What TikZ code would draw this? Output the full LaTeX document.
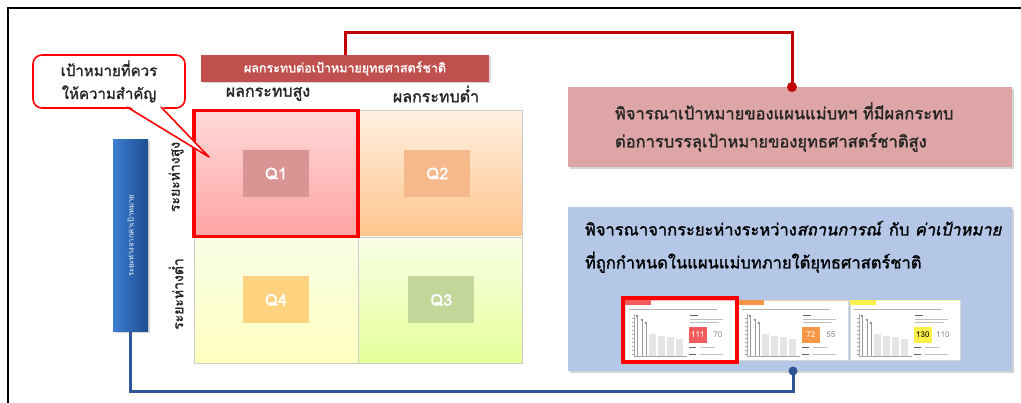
\documentclass[tikz,border=0pt]{standalone}
\usepackage{fontspec}
\setmainfont[Script=Thai]{Loma}
\newfontfamily\thaibold[Script=Thai, FakeBold=1.6]{Loma}
\usetikzlibrary{positioning,shadows}

\definecolor{hdrred}{HTML}{C0504D}
\definecolor{linkred}{HTML}{C00000}
\definecolor{linkblue}{HTML}{2F5597}
\definecolor{pinkfill}{HTML}{DDA5A5}
\definecolor{bluefill}{HTML}{B4C7E7}
\definecolor{barleft}{HTML}{3C7DD2}
\definecolor{barright}{HTML}{1F4E8F}
\definecolor{qone}{HTML}{D99594}
\definecolor{qtwo}{HTML}{F6B98B}
\definecolor{qthree}{HTML}{C4D79B}
\definecolor{qfour}{HTML}{FDD37F}
\definecolor{thumbred}{HTML}{F25C5C}
\definecolor{thumborange}{HTML}{F79646}
\definecolor{thumbyellow}{HTML}{FFEF4A}
\definecolor{inktext}{HTML}{262626}

\begin{document}
\begin{tikzpicture}
  [
    x=1pt, y=-1pt,
    >=stealth,
    cell/.style    = {draw=black!20, minimum width=164pt, minimum height=126pt, inner sep=0pt},
    qlabel/.style  = {text=white, font=\thaibold\fontsize{16}{16}\selectfont, minimum width=66pt, minimum height=47pt},
    colhead/.style = {text=inktext, font=\thaibold\fontsize{16}{16}\selectfont},
    rowhead/.style = {text=inktext, font=\thaibold\fontsize{14}{14}\selectfont, rotate=90},
    infobox/.style = {minimum width=444pt, drop shadow={opacity=0.35, shadow xshift=2pt, shadow yshift=-2pt}},
    thumb/.style   = {fill=white, draw=black!15, minimum width=110pt, minimum height=60pt, inner sep=0pt},
    redlink/.style = {draw=linkred, line width=3pt},
    bluelink/.style= {draw=linkblue, line width=3pt},
    point/.style   = {circle, inner sep=0pt, minimum size=10pt},
  ]

  \useasboundingbox (0,0) rectangle (1021,403);
  % frame
  \draw[line width=1.6pt] (8,403) -- (8,8) -- (1021,8);

  % ---- the 2x2 grid
  \node[cell, top color=red!15, bottom color=red!36] (q1) at (276,173.5) {};
  \node[cell, top color=orange!12, bottom color=orange!45, right=0pt of q1] (q2) {};
  \node[cell, top color=lime!10, bottom color=yellow!25, below=0pt of q1] (q4) {};
  \node[cell, top color=lime!10, bottom color=lime!40, right=0pt of q4] (q3) {};

  \node[qlabel, fill=qone]   (l1) at (q1.center) {Q1};
  \node[qlabel, fill=qtwo]   (l2) at ([xshift=-3pt]q2.center) {Q2};
  \node[qlabel, fill=qfour]  (l4) at (q4.center) {Q4};
  \node[qlabel, fill=qthree] (l3) at ([xshift=1pt]q3.center) {Q3};

  \draw[red, line width=3.5pt] (q1.north west) rectangle (q1.south east);

  % ---- column / row heads
  \node[fill=hdrred, text=white, minimum width=288pt, minimum height=27pt,
        font=\thaibold\fontsize{12.5}{12.5}\selectfont,
        drop shadow={opacity=0.3, shadow xshift=1.5pt, shadow yshift=-1.5pt}]
        (hdr) at (345,68.5) {ผลกระทบต่อเป้าหมายยุทธศาสตร์ชาติ};
  \node[colhead] (hi) at (268,94) {ผลกระทบสูง};
  \node[colhead] (lo) at (436,94) {ผลกระทบต่ำ};

  \node[left color=barleft, right color=barright, minimum width=35pt, minimum height=192pt,
        drop shadow={opacity=0.3, shadow xshift=1.5pt, shadow yshift=-1.5pt}]
        (gap) at (130.5,236) {};
  \node[rotate=90, text=white, font=\fontsize{7.5}{7.5}\selectfont] (gaptxt) at (gap.center) {ระยะห่างจากค่าเป้าหมาย};
  \node[rowhead] (gaphi) at (176,177) {ระยะห่างสูง};
  \node[rowhead] (gaplo) at (176,294) {ระยะห่างต่ำ};

  % ---- callout
  \node[draw=red, line width=1.6pt, fill=white, rounded corners=9pt,
        minimum width=152pt, minimum height=53pt, align=center, text=inktext,
        font=\thaibold\fontsize{15}{23}\selectfont]
        (note) at (109,81.5) {เป้าหมายที่ควร\\ให้ความสำคัญ};
  \coordinate (tip) at (209,157);
  \coordinate (pb1) at (127,107);
  \coordinate (pb2) at (161,107);
  \fill[white] ([yshift=2pt]pb1) -- (tip) -- ([yshift=2pt]pb2) -- cycle;
  \draw[red, line width=1.6pt, line join=round] (pb1) -- (tip) -- (pb2);

  % ---- right hand boxes
  \node[infobox, fill=pinkfill, minimum height=80pt, inner xsep=47pt, text width=350pt,
        align=left, text=inktext, font=\thaibold\fontsize{16.5}{28}\selectfont]
        (impact) at (790,127) {พิจารณาเป้าหมายของแผนแม่บทฯ ที่มีผลกระทบ\\ต่อการบรรลุเป้าหมายของยุทธศาสตร์ชาติสูง};
  \node[infobox, fill=bluefill, minimum height=164pt] (gapbox) at (790,289) {};
  \node[anchor=north west, align=left, text=black, inner sep=0pt,
        font=\thaibold\fontsize{16.5}{33}\selectfont]
        (gaptext) at ([xshift=17pt, yshift=-14pt]gapbox.north west)
        {พิจารณาจากระยะห่างระหว่าง\textit{สถานการณ์} กับ \textit{ค่าเป้าหมาย}\\ที่ถูกกำหนดในแผนแม่บทภายใต้ยุทธศาสตร์ชาติ};

  % ---- the three dashboard thumbnails
  \foreach \i/\cx/\tc/\va/\vb/\vt in {1/680/thumbred/111/70/white, 2/793/thumborange/72/55/white, 3/905/thumbyellow/130/110/black} {
    \node[thumb] (th\i) at (\cx,330) {};
    \begin{scope}[shift={(th\i.north west)}]
      \fill[\tc!45] (0,0) rectangle (110,1.5);
      \fill[\tc] (0,0) rectangle (26,5);
      \draw[black!30, line width=0.9pt] (4,10) -- (92,10);
      % chart
      \draw[black!35, line width=0.5pt] (9,14) -- (9,56) -- (62,56);
      \foreach \t in {18,22,...,54} \draw[black!35, line width=0.4pt] (7.5,\t) -- (9,\t);
      \foreach \lx/\ly in {12/16, 17/20, 21/23} {
        \draw[black!40, line width=0.6pt] (\lx,56) -- (\lx,\ly);
        \fill[black!55] (\lx,\ly) circle (1.1pt);
      }
      \foreach \bx/\by in {24/34, 33/36, 42/37, 51/39} \fill[black!10] (\bx,\by) rectangle (\bx+7,56);
      % figures
      \draw[black!60, line width=1pt] (65,16) -- (73,16);
      \draw[black!25, line width=0.6pt] (65,20) -- (98,20) (65,23) -- (94,23);
      \fill[\tc] (64,27) rectangle (82,43);
      \node[text=\vt, font=\fontsize{8}{8}\selectfont, inner sep=0pt] (va\i) at (73,35) {\va};
      \node[text=black!45, font=\fontsize{8}{8}\selectfont, inner sep=0pt] (vb\i) at (93,35) {\vb};
      \draw[black!60, line width=0.8pt] (64,48) -- (71,48) (64,55) -- (71,55);
      \draw[black!25, line width=0.6pt] (75,48) -- (90,48) (75,55) -- (98,55);
    \end{scope}
  }
  \draw[red, line width=3.5pt] ([shift={(-2pt,2pt)}]th1.north west) rectangle ([shift={(2pt,-2pt)}]th1.south east);

  % ---- connectors
  \coordinate (rtop) at (345,33);
  \coordinate (rin) at (792,87);
  \draw[redlink] (hdr.north -| rtop) -- (rtop) -| (rin);
  \node[point, fill=linkred] (rdot) at (rin) {};

  \coordinate (bbot) at (0,392);
  \coordinate (bin) at (793,371);
  \draw[bluelink] (gap.south) -- (gap.south |- bbot) -| (bin);
  \node[point, fill=linkblue, minimum size=9pt] (bdot) at (bin) {};

\end{tikzpicture}
\end{document}
